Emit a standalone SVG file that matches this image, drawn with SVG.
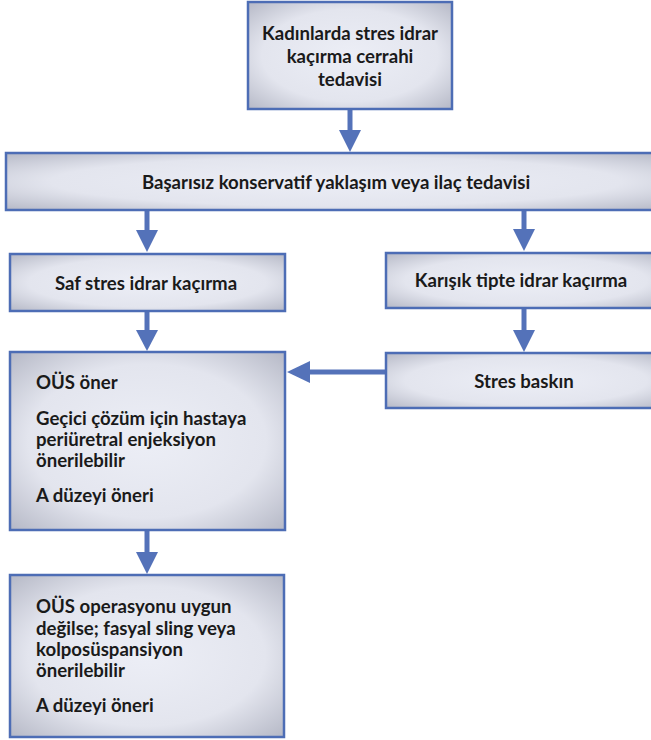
<svg xmlns="http://www.w3.org/2000/svg" width="651" height="740" viewBox="0 0 651 740">
<style>
.box{fill:url(#g);stroke:#4d6db5;stroke-width:2.5}
.t{font-family:Lato,"Open Sans","Liberation Sans",sans-serif;font-weight:bold;font-size:18.6px;fill:#1a1a1a}
.c{text-anchor:middle}
.ln{stroke:#5472b9;stroke-width:5;fill:none}
.ah{fill:#5472b9}
</style>
<defs>
<radialGradient id="g" cx="0.5" cy="0.5" r="0.72">
<stop offset="0" stop-color="#eceef6"/>
<stop offset="0.6" stop-color="#e3e5ee"/>
<stop offset="1" stop-color="#b3b6c4"/>
</radialGradient>
</defs>
<rect width="651" height="740" fill="#ffffff"/>
<g id="connectors">
<line class="ln" x1="350" y1="110" x2="350" y2="138"/>
<polygon class="ah" points="339,130 361,130 350,152"/>
<line class="ln" x1="147" y1="210" x2="147" y2="238"/>
<polygon class="ah" points="136,230 158,230 147,252"/>
<line class="ln" x1="524" y1="210" x2="524" y2="237"/>
<polygon class="ah" points="513,229 535,229 524,251"/>
<line class="ln" x1="147" y1="311" x2="147" y2="338"/>
<polygon class="ah" points="136,330 158,330 147,351"/>
<line class="ln" x1="524" y1="308" x2="524" y2="338"/>
<polygon class="ah" points="513,330 535,330 524,352"/>
<line class="ln" x1="386" y1="372" x2="302" y2="372"/>
<polygon class="ah" points="310,361 310,383 287,372"/>
<line class="ln" x1="147" y1="530" x2="147" y2="560"/>
<polygon class="ah" points="136,552 158,552 147,574"/>
</g>
<g id="n1">
<rect class="box" x="248" y="2" width="204" height="107"/>
<text class="t c" x="350" y="40">Kadınlarda stres idrar</text>
<text class="t c" x="350" y="63">kaçırma cerrahi</text>
<text class="t c" x="350" y="86">tedavisi</text>
</g>
<g id="n2">
<rect class="box" x="6" y="153" width="660" height="57"/>
<text class="t c" x="336" y="189">Başarısız konservatif yaklaşım veya ilaç tedavisi</text>
</g>
<g id="n3">
<rect class="box" x="10" y="254" width="275" height="57"/>
<text class="t c" x="146" y="290">Saf stres idrar kaçırma</text>
</g>
<g id="n4">
<rect class="box" x="386" y="253" width="280" height="55"/>
<text class="t c" x="521" y="287">Karışık tipte idrar kaçırma</text>
</g>
<g id="n5">
<rect class="box" x="386" y="353" width="280" height="55"/>
<text class="t c" x="524" y="388">Stres baskın</text>
</g>
<g id="n6">
<rect class="box" x="10" y="352" width="275" height="178"/>
<text class="t" x="36" y="389">OÜS öner</text>
<text class="t" x="36" y="425">Geçici çözüm için hastaya</text>
<text class="t" x="36" y="446">periüretral enjeksiyon</text>
<text class="t" x="36" y="467">önerilebilir</text>
<text class="t" x="36" y="502">A düzeyi öneri</text>
</g>
<g id="n7">
<rect class="box" x="10" y="575" width="274" height="162"/>
<text class="t" x="36" y="613">OÜS operasyonu uygun</text>
<text class="t" x="36" y="635">değilse; fasyal sling veya</text>
<text class="t" x="36" y="656">kolposüspansiyon</text>
<text class="t" x="36" y="677">önerilebilir</text>
<text class="t" x="36" y="712">A düzeyi öneri</text>
</g>
</svg>
